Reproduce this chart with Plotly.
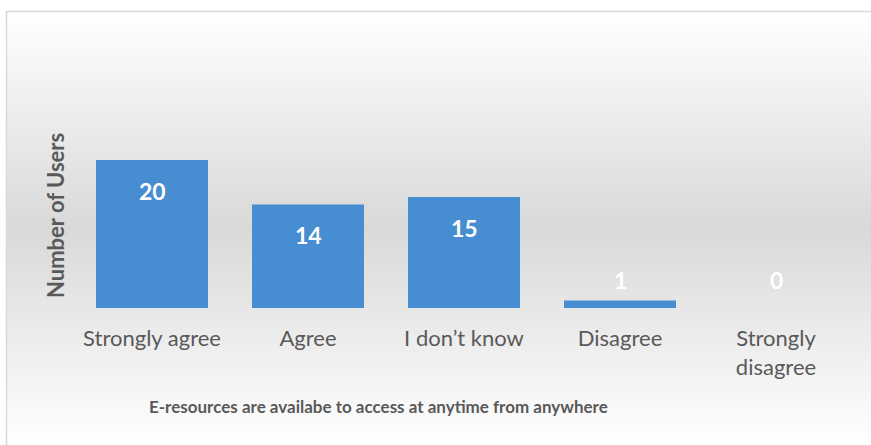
import base64
import plotly.graph_objects as go

# Survey responses
categories = ["Strongly agree", "Agree", "I don\u2019t know", "Disagree", "Strongly<br>disagree"]
users = [20, 14, 15, 1, 0]
x_title = "E-resources are availabe to access at anytime from anywhere"
y_title = "Number of Users"

W, H = 871, 445
L, R, T, B = 74, 17, 123, 137
Y_MAX = 25
plot_w = W - L - R
plot_h = H - T - B


def px_x(p):
    return (p - L) / plot_w


def px_y(p):
    return (H - B - p) / plot_h


FONT = "Lato, 'Open Sans', sans-serif"
GREY_TXT = "#595959"

# soft vertical grey gradient for the chart area
svg = (
    '<svg xmlns="http://www.w3.org/2000/svg" width="100" height="100" preserveAspectRatio="none" viewBox="0 0 100 100">'
    '<defs><linearGradient id="g" x1="0" y1="0" x2="0" y2="1">'
    '<stop offset="0" stop-color="#ffffff"/>'
    '<stop offset="0.5" stop-color="#d9d9d9"/>'
    '<stop offset="1" stop-color="#ffffff"/>'
    '</linearGradient></defs>'
    '<rect x="0" y="0" width="100" height="100" fill="url(#g)"/></svg>'
)
bg_src = "data:image/svg+xml;base64," + base64.b64encode(svg.encode()).decode()

fig = go.Figure()
fig.add_trace(go.Bar(
    x=categories,
    y=users,
    width=0.718,
    marker=dict(color="#478dd1", line=dict(width=0)),
    hoverinfo="skip",
))

# value labels: inside the top of tall bars, just above short ones
annotations = []
for cat, v in zip(categories, users):
    if v >= 5:
        y, shift = v, -31
    else:
        y, shift = 0, 28
    annotations.append(dict(
        x=cat, y=y, yshift=shift, text=f"<b>{v}</b>", showarrow=False,
        xanchor="center", yanchor="middle",
        font=dict(family=FONT, size=23, color="white"),
        xref="x", yref="y",
    ))

annotations.append(dict(
    x=px_x(378), y=px_y(406), xref="paper", yref="paper",
    xanchor="center", yanchor="middle",
    text=f"<b>{x_title}</b>", showarrow=False,
    font=dict(family=FONT, size=17, color=GREY_TXT),
))
annotations.append(dict(
    x=px_x(55), y=px_y(216), xref="paper", yref="paper",
    xanchor="center", yanchor="middle",
    text=f"<b>{y_title}</b>", showarrow=False, textangle=-90,
    font=dict(family=FONT, size=22, color=GREY_TXT),
))

fig.update_layout(
    width=W, height=H,
    margin=dict(l=L, r=R, t=T, b=B, pad=0),
    paper_bgcolor="white",
    plot_bgcolor="rgba(0,0,0,0)",
    showlegend=False,
    bargap=0.282,
    annotations=annotations,
    images=[dict(
        source=bg_src, xref="paper", yref="paper",
        x=px_x(7), y=px_y(12), sizex=(W - 7) / plot_w, sizey=(H - 12) / plot_h,
        xanchor="left", yanchor="top", sizing="stretch", layer="below",
    )],
    shapes=[dict(
        type="rect", xref="paper", yref="paper",
        x0=px_x(6.5), x1=px_x(W + 2), y0=px_y(H + 2), y1=px_y(11.5),
        line=dict(color="#d9d9d9", width=1.5), fillcolor="rgba(0,0,0,0)",
        layer="below",
    )],
    xaxis=dict(
        showgrid=False, zeroline=False, showline=False, ticks="",
        tickfont=dict(family=FONT, size=22, color=GREY_TXT),
        ticklabelstandoff=15,
    ),
    yaxis=dict(
        range=[0, Y_MAX], showgrid=False, zeroline=False, showline=False,
        showticklabels=False, ticks="",
    ),
)

fig.write_html("out.html")
